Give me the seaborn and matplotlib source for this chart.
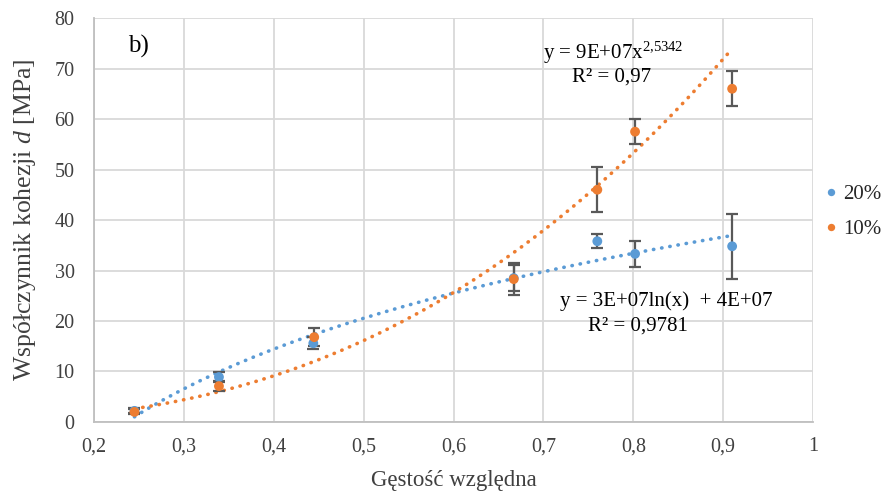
import numpy as np
import pandas as pd
import matplotlib
matplotlib.use("Agg")
import matplotlib.pyplot as plt
import seaborn as sns

# Relative density and cohesion coefficient (MPa) for the two series
x_20 = [0.245, 0.339, 0.444, 0.667, 0.760, 0.802, 0.910]
d_20 = [2.2, 8.9, 15.6, 28.5, 35.8, 33.3, 34.8]
err_20 = [0.5, 1.0, 1.2, 2.6, 1.4, 2.6, 6.4]

x_10 = [0.245, 0.339, 0.445, 0.667, 0.760, 0.802, 0.910]
d_10 = [2.0, 7.1, 16.8, 28.3, 46.0, 57.5, 66.0]
err_10 = [0.5, 1.0, 1.8, 3.2, 4.5, 2.5, 3.5]

series_names = ["20%", "10%"]
colors = {"20%": "#5B9BD5", "10%": "#ED7D31"}

sns.set_theme(style="white")
plt.rcParams["font.family"] = ["Liberation Serif", "DejaVu Serif"]
plt.rcParams["mathtext.fontset"] = "custom"
plt.rcParams["mathtext.rm"] = "Liberation Serif"
plt.rcParams["mathtext.it"] = "Liberation Serif:italic"

df = pd.DataFrame({
    "x": x_20 + x_10,
    "d": d_20 + d_10,
    "seria": ["20%"] * len(x_20) + ["10%"] * len(x_10),
})

fig = plt.figure(figsize=(8.87, 4.95), dpi=100)
ax = fig.add_axes([0.106, 0.1475, 0.8106, 0.816])

# Trendlines: logarithmic for 20%, power law for 10%
xs = np.linspace(min(x_20), max(x_20), 200)
a_log, b_log = np.polyfit(np.log(x_20), d_20, 1)
xs10 = np.linspace(min(x_10), max(x_10), 200)
p_pow, lnk = np.polyfit(np.log(x_10), np.log(d_10), 1)
trend = pd.DataFrame({
    "x": np.concatenate([xs, xs10]),
    "d": np.concatenate([a_log * np.log(xs) + b_log, np.exp(lnk) * xs10 ** p_pow]),
    "seria": ["20%"] * len(xs) + ["10%"] * len(xs10),
})
for name in series_names:
    sub = trend[trend.seria == name]
    sns.lineplot(data=sub, x="x", y="d", ax=ax, color=colors[name],
                 linewidth=2.6, linestyle=(0, (0.1, 2.2)),
                 dash_capstyle="round", zorder=2, legend=False)

# Error bars
ax.errorbar(x_20, d_20, yerr=err_20, fmt="none", ecolor="#595959",
            elinewidth=1.6, capsize=4, capthick=1.6, zorder=3)
ax.errorbar(x_10, d_10, yerr=err_10, fmt="none", ecolor="#595959",
            elinewidth=1.6, capsize=4, capthick=1.6, zorder=3)

sns.scatterplot(data=df, x="x", y="d", hue="seria", hue_order=series_names,
                palette=colors, s=50, edgecolor="none", ax=ax, zorder=4)

ax.set_xlim(0.2, 1.0)
ax.set_ylim(0, 80)
ax.set_xticks(np.arange(0.2, 1.01, 0.1))
ax.set_yticks(np.arange(0, 81, 10))
ax.set_xticklabels([("%g" % v).replace(".", ",") for v in np.round(np.arange(0.2, 1.01, 0.1), 1)])
ax.tick_params(axis="both", labelsize=14.5, colors="#404040", length=0)
ax.tick_params(axis="x", pad=11)
ax.tick_params(axis="y", pad=14)
ax.grid(True, color="#D9D9D9", linewidth=1.3)
for s in ["top", "right"]:
    ax.spines[s].set_visible(False)
for s in ["left", "bottom"]:
    ax.spines[s].set_color("#BFBFBF")
    ax.spines[s].set_linewidth(1.3)

ax.set_xlabel("Gęstość względna", fontsize=16.5, color="#404040")
ax.set_ylabel("Współczynnik kohezji $d$ [MPa]", fontsize=18.5, color="#404040")
ax.xaxis.set_label_coords(0.5, -0.118)
ax.yaxis.set_label_coords(-0.078, 0.5)

ax.text(0.238, 73.2, "b)", fontsize=18, color="black")
ax.text(0.778, 73.2, "y = 9E+07x$^{2{,}5342}$", fontsize=15, ha="center", va="center", color="black")
ax.text(0.776, 68.4, "R² = 0,97", fontsize=15, ha="center", va="center", color="black")
ax.text(0.837, 24.0, "y = 3E+07ln(x)  + 4E+07", fontsize=15, ha="center", va="center", color="black")
ax.text(0.805, 19.1, "R² = 0,9781", fontsize=15, ha="center", va="center", color="black")

handles, labels = ax.get_legend_handles_labels()
ax.legend(handles, labels, loc="center left", bbox_to_anchor=(1.007, 0.52),
          frameon=False, fontsize=15, handletextpad=0.0, labelspacing=0.75,
          handlelength=1.2, markerscale=0.75, borderaxespad=0, borderpad=0)

fig.savefig("out.png", dpi=100)
